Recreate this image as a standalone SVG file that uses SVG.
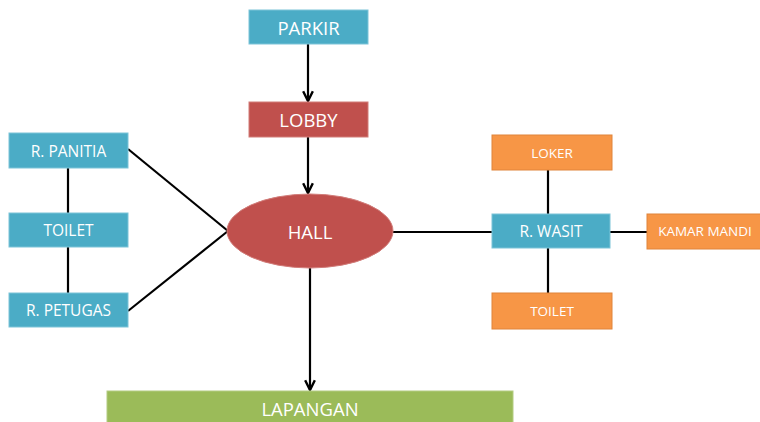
<svg xmlns="http://www.w3.org/2000/svg" width="760" height="422" viewBox="0 0 760 422">
  <style>
    .blue { fill: #4BACC6; stroke: #7cc4d8; stroke-width: 1; }
    .red { fill: #C0504D; stroke: #d17c79; stroke-width: 1; }
    .orange { fill: #F79646; stroke: #e0843a; stroke-width: 1; }
    .green { fill: #9BBB59; stroke: #b3cc82; stroke-width: 1; }
    text { font-family: "Open Sans", "Liberation Sans", sans-serif; fill: #ffffff; text-anchor: middle; dominant-baseline: central; }
    .big { font-size: 18.5px; }
    .mid { font-size: 15.5px; }
    .small { font-size: 13.5px; }
    .link { stroke: #000000; stroke-width: 2.2; fill: none; }
  </style>
  <defs>
    <marker id="arrow" viewBox="0 0 10 10" refX="9" refY="5" markerWidth="5.5" markerHeight="5.5" orient="auto" markerUnits="strokeWidth">
      <path d="M1,1 L9,5 L1,9" fill="none" stroke="#000000" stroke-width="2"/>
    </marker>
  </defs>
  <rect width="760" height="422" fill="#ffffff"/>

  <!-- links between rooms -->
  <g id="connectors">
    <line class="link" x1="308" y1="44" x2="308" y2="101" marker-end="url(#arrow)"/>
    <line class="link" x1="308" y1="137" x2="308" y2="193" marker-end="url(#arrow)"/>
    <line class="link" x1="310" y1="268" x2="310" y2="390" marker-end="url(#arrow)"/>
    <line class="link" x1="128" y1="149" x2="228" y2="231"/>
    <line class="link" x1="128" y1="311" x2="228" y2="231"/>
    <line class="link" x1="68" y1="168" x2="68" y2="213"/>
    <line class="link" x1="68" y1="247" x2="68" y2="293"/>
    <line class="link" x1="392" y1="232" x2="492" y2="232"/>
    <line class="link" x1="548" y1="170" x2="548" y2="214"/>
    <line class="link" x1="548" y1="248" x2="548" y2="293"/>
    <line class="link" x1="610" y1="232" x2="647" y2="232"/>
  </g>

  <g id="parkir">
    <rect class="blue" x="249" y="10" width="119" height="34"/>
    <text class="big" x="308.5" y="27">PARKIR</text>
  </g>
  <g id="lobby">
    <rect class="red" x="249" y="102" width="119" height="35"/>
    <text class="big" x="308.5" y="119.5">LOBBY</text>
  </g>
  <g id="hall">
    <ellipse class="red" cx="310" cy="231" rx="83" ry="37"/>
    <text class="big" x="310" y="231">HALL</text>
  </g>
  <g id="r-panitia">
    <rect class="blue" x="9" y="133" width="119" height="35"/>
    <text class="mid" x="68.5" y="150.5">R. PANITIA</text>
  </g>
  <g id="toilet-left">
    <rect class="blue" x="9" y="213" width="119" height="34"/>
    <text class="mid" x="68.5" y="230">TOILET</text>
  </g>
  <g id="r-petugas">
    <rect class="blue" x="9" y="293" width="119" height="34"/>
    <text class="mid" x="68.5" y="310">R. PETUGAS</text>
  </g>
  <g id="loker">
    <rect class="orange" x="492" y="135" width="120" height="35"/>
    <text class="small" x="552" y="152.5">LOKER</text>
  </g>
  <g id="r-wasit">
    <rect class="blue" x="492" y="214" width="118" height="34"/>
    <text class="mid" x="551" y="231">R. WASIT</text>
  </g>
  <g id="toilet-right">
    <rect class="orange" x="492" y="293" width="120" height="36"/>
    <text class="small" x="552" y="311">TOILET</text>
  </g>
  <g id="kamar-mandi">
    <rect class="orange" x="647" y="214" width="120" height="35"/>
    <text class="small" x="705" y="231">KAMAR MANDI</text>
  </g>
  <g id="lapangan">
    <rect class="green" x="107" y="391" width="406" height="40"/>
    <text class="big" x="310" y="408">LAPANGAN</text>
  </g>
</svg>
